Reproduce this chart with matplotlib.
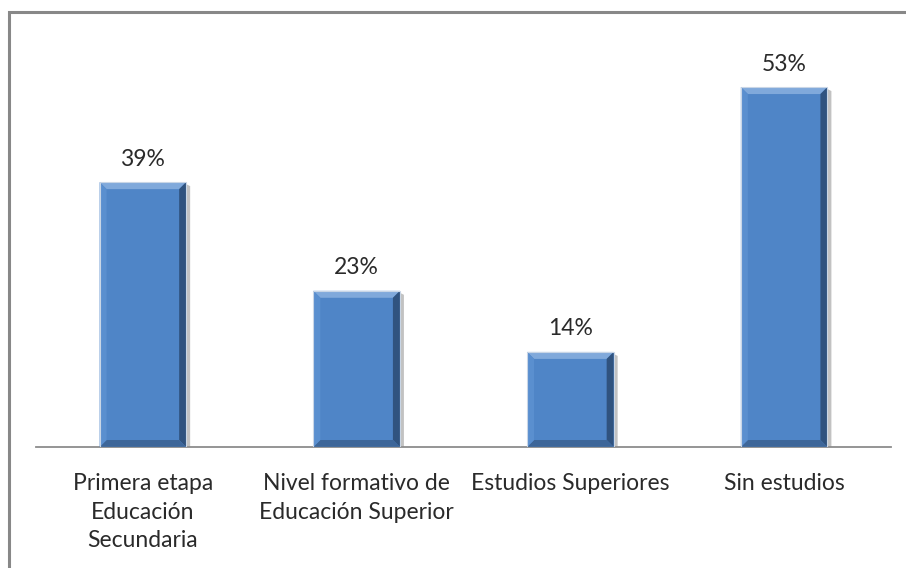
import matplotlib.pyplot as plt
from matplotlib.patches import Polygon, Rectangle

categories = ['Primera etapa\nEducación\nSecundaria',
              'Nivel formativo de\nEducación Superior',
              'Estudios Superiores',
              'Sin estudios']
values = [39, 23, 14, 53]
labels = ['39%', '23%', '14%', '53%']

plt.rcParams['font.family'] = ['Lato', 'DejaVu Sans']

W, H = 906, 568
fig = plt.figure(figsize=(W / 100, H / 100), dpi=100)
ax = fig.add_axes([36 / W, 121 / H, 855 / W, 407.5 / H])

x = range(len(values))
bars = ax.bar(x, values, width=0.405, color='#4F85C7', zorder=3)
ax.set_xlim(-0.5, 3.5)
ax.set_ylim(0, 60)

for s in ['left', 'right', 'top']:
    ax.spines[s].set_visible(False)
ax.spines['bottom'].set_color('#8C8C8C')
ax.spines['bottom'].set_linewidth(1.3)
ax.set_yticks([])
ax.set_xticks(list(x))
ax.set_xticklabels(categories, fontsize=16.5, color='#2A2A2A', linespacing=1.42)
ax.tick_params(axis='x', length=0, pad=19)

fig.canvas.draw()
to_px = ax.transData
to_data = ax.transData.inverted()
bev = 7  # bevel size in pixels

for b, lab in zip(bars, labels):
    x0, y0 = to_px.transform((b.get_x(), 0))
    x1, y1 = to_px.transform((b.get_x() + b.get_width(), b.get_height()))

    def poly(pts, color, z=4, alpha=1.0):
        ax.add_patch(Polygon(to_data.transform(pts), closed=True, facecolor=color,
                             edgecolor='none', zorder=z, alpha=alpha))

    # drop shadow to the right
    poly([(x1, y1 - 2), (x1 + 4, y1 - 4), (x1 + 4, y0 - 3), (x1, y0 - 3)], '#9A9A9A', z=2, alpha=0.6)
    poly([(x0 - 1, y0), (x1, y0), (x1, y0 - 3), (x0 - 1, y0 - 3)], '#B5B5B5', z=2, alpha=0.6)
    # bevels
    poly([(x0, y1), (x1, y1), (x1 - bev, y1 - bev), (x0 + bev, y1 - bev)], '#80A9DB')
    poly([(x1, y1), (x1, y0), (x1 - bev, y0 + bev), (x1 - bev, y1 - bev)], '#30537F')
    poly([(x0, y0), (x1, y0), (x1 - bev, y0 + bev), (x0 + bev, y0 + bev)], '#3D6699')
    poly([(x0, y1), (x0, y0), (x0 + bev, y0 + bev), (x0 + bev, y1 - bev)], '#5A8FCF')
    # light outline
    ax.add_patch(Rectangle(to_data.transform((x0, y0)), b.get_width(), b.get_height(),
                           facecolor='none', edgecolor='#C9D6E6', linewidth=0.8, zorder=5))

    ax.annotate(lab, (b.get_x() + b.get_width() / 2, b.get_height()),
                xytext=(0, 9), textcoords='offset points', ha='center', va='bottom',
                fontsize=16.5, color='#2A2A2A')

# chart area border (left and top only visible)
fig.patches.append(Rectangle((9 / W, -0.1), 1.2, (H - 12) / H + 0.1, transform=fig.transFigure,
                             facecolor='none', edgecolor='#888888', linewidth=2.2))

fig.savefig('out.png', dpi=100)
